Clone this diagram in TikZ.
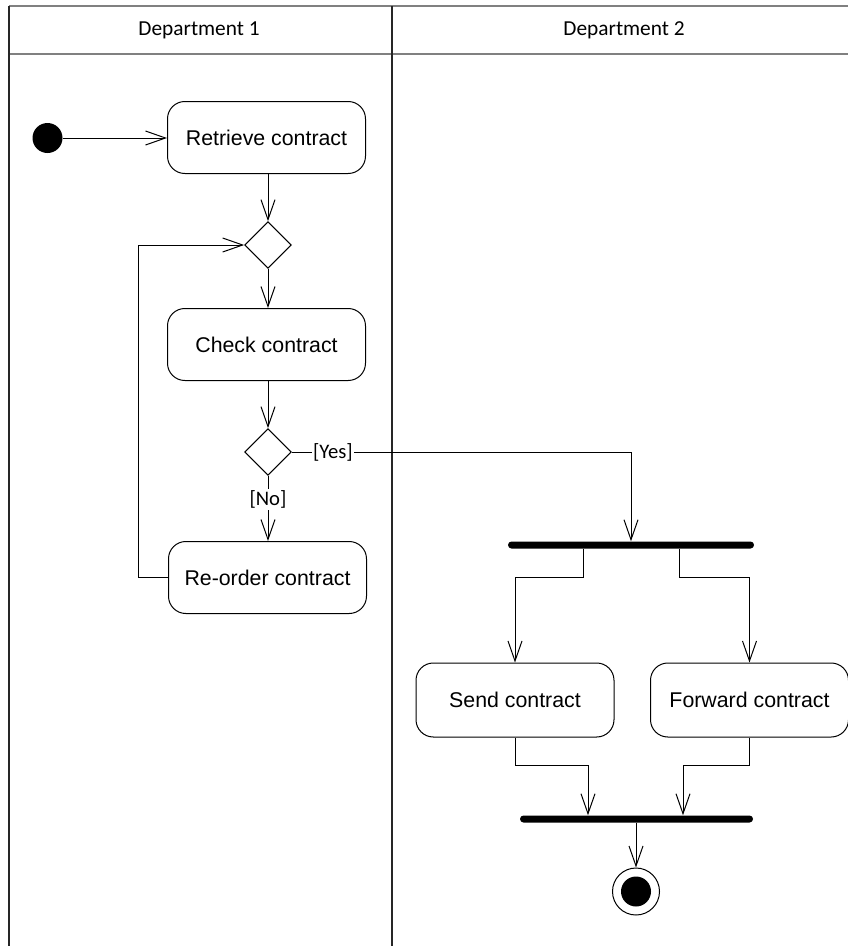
\documentclass[tikz,border=0pt]{standalone}
\usepackage{fontspec}
\setmainfont{Liberation Sans}
\newfontfamily\labelfont{Carlito}
\usetikzlibrary{arrows.meta,shapes.geometric,calc}
\begin{document}
\begin{tikzpicture}[x=0.75pt,y=-0.75pt,
  action/.style={draw, rounded corners=13pt, minimum width=148.5pt, minimum height=54pt,
    inner sep=0pt, font=\fontsize{16}{18}\selectfont, line width=0.75pt},
  decision/.style={draw, diamond, aspect=1, minimum width=35pt, minimum height=35pt,
    inner sep=0pt, line width=0.75pt},
  bar/.style={fill=black, rounded corners=2.6pt, minimum height=5.25pt, inner sep=0pt},
  flow/.style={line width=0.75pt, -{Straight Barb[length=15pt,width=10.5pt]}},
  guard/.style={font=\labelfont\fontsize{15.5}{18}\selectfont, fill=white, inner sep=1pt},
  lanehead/.style={font=\labelfont\fontsize{16}{19}\selectfont},
  hline/.style={draw=black!50, line width=1.5pt},
  vline/.style={draw=black!85, line width=1.5pt}]

\useasboundingbox (0,0) rectangle (848,946);

% swimlane frame
\draw[hline] (9,6) -- (848,6);
\draw[hline] (9,54) -- (848,54);
\draw[vline] (9,6) -- (9,946);
\draw[vline] (392,6) -- (392,946);
\node[lanehead] (lane1) at (199,30) {Department 1};
\node[lanehead] (lane2) at (624,30) {Department 2};

% activity nodes
\node[circle, fill=black, minimum size=22.5pt, inner sep=0pt] (start) at (47.5,138) {};
\node[action] (retrieve) at (266.5,137.5) {Retrieve contract};
\node[decision] (merge) at (268,245) {};
\node[action] (check) at (266.5,344.5) {Check contract};
\node[decision] (ok) at (268,452) {};
\node[action] (reorder) at (267.5,577.5) {Re-order contract};
\node[bar, minimum width=184.5pt] (fork) at (631,545) {};
\node[action, minimum height=55.5pt] (send) at (515,700) {Send contract};
\node[action, minimum height=55.5pt] (forward) at (749.5,700) {Forward contract};
\node[bar, minimum width=174.75pt] (join) at (636.5,819) {};
\node[circle, draw, line width=0.75pt, minimum size=35.25pt, inner sep=0pt] (final) at (636,891.5) {};
\fill (final.center) circle (11.25pt);

% control flows
\draw[flow] (start.east) -- (start.east -| retrieve.west);
\draw[flow] (retrieve.south -| merge) -- (merge.north);
\draw[flow] (merge.south) -- (merge.south |- check.north);
\draw[flow] (check.south -| ok) -- (ok.north);
\draw[flow] (ok.south) -- node[guard, pos=0.36] {[No]} (ok.south |- reorder.north);
\coordinate (back) at (138,245);
\draw[flow] (reorder.west) -| (back) -- (merge.west);
\draw[flow] (ok.east) -| node[guard, pos=0.0606] {[Yes]} (fork.north);

\coordinate (splitL) at (583,577);
\coordinate (splitR) at (679,577);
\draw[flow] (fork.south -| splitL) -- (splitL) -| (send.north);
\draw[flow] (fork.south -| splitR) -- (splitR) -| (forward.north);

\coordinate (mergeL) at (588,765);
\coordinate (mergeR) at (683,765);
\draw[flow] (send.south) |- (mergeL) -- (mergeL |- join.north);
\draw[flow] (forward.south) |- (mergeR) -- (mergeR |- join.north);
\draw[flow] (join.south -| final) -- (final.north);
\end{tikzpicture}
\end{document}
